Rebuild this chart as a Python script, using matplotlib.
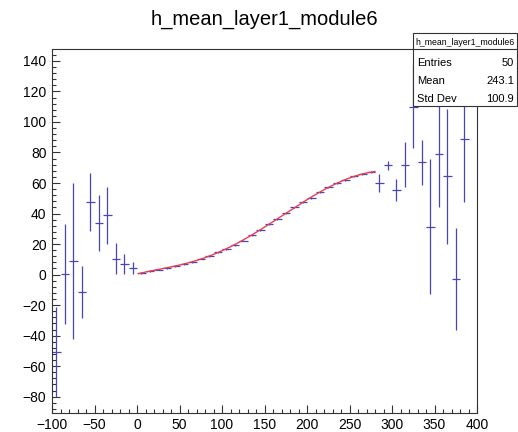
import numpy as np
import matplotlib
matplotlib.use("Agg")
import matplotlib.pyplot as plt
from matplotlib.patches import Rectangle
from matplotlib.ticker import MultipleLocator

plt.rcParams['font.family'] = ['Liberation Sans', 'DejaVu Sans']

# histogram: 50 bins from -100 to 400
bin_edges = np.linspace(-100, 400, 51)
centers = 0.5 * (bin_edges[:-1] + bin_edges[1:])

contents = [-51.0, 0.3, 9.0, -11.3, 47.3, 33.8, 38.8, 10.5, 6.8, 4.4,
            1.1, 2.2, 3.3, 4.4, 5.4, 6.9, 8.5, 10.5, 12.2, 14.5,
            16.6, 19.5, 22.3, 26.0, 29.4, 33.0, 36.6, 40.3, 44.0, 47.3,
            50.2, 54.0, 57.1, 60.0, 62.1, 64.3, 66.0, 67.0,
            60.0, 71.5, 55.5, 72.0, 110.0, 73.5, 31.5, 79.0, 64.3, -3.0,
            89.0, np.nan]
errors = [29.5, 33.0, 51.0, 17.0, 19.0, 18.5, 18.5, 10.0, 6.5, 4.0,
          0.6, 0.6, 0.6, 0.6, 0.6, 0.6, 0.6, 0.6, 0.6, 0.6,
          0.6, 0.6, 0.6, 0.6, 0.6, 0.6, 0.6, 0.6, 0.6, 0.6,
          0.6, 0.6, 0.6, 0.6, 0.6, 0.6, 0.6, 0.6,
          6.0, 3.0, 7.3, 14.7, 27.0, 14.5, 44.0, 34.5, 44.0, 33.5,
          41.6, np.nan]
contents = np.array(contents)
errors = np.array(errors)

fit_lo, fit_hi = 0, 280
title = "h_mean_layer1_module6"
stats = [("Entries", "50"), ("Mean", "243.1"), ("Std Dev", "100.9")]

blue = '#4646b9'
red = '#e8404f'

fig = plt.figure(figsize=(5.18, 4.32), dpi=100)
ax = fig.add_axes([52 / 518, 1 - 412.7 / 432, 425 / 518, (412.7 - 49) / 432])

ax.errorbar(centers, contents, yerr=errors, xerr=5, fmt='none',
            ecolor=blue, elinewidth=0.9, capsize=0, zorder=2)

# polynomial fit over the fit range
sel = (centers > fit_lo) & (centers < fit_hi)
p = np.polyfit(centers[sel], contents[sel], 5)
xf = np.linspace(fit_lo + 2, fit_hi, 200)
ax.plot(xf, np.polyval(p, xf), color=red, lw=1.0, zorder=3)

ax.set_xlim(-100, 400)
ax.set_ylim(-90.5, 147.8)
ax.xaxis.set_major_locator(MultipleLocator(50))
ax.xaxis.set_minor_locator(MultipleLocator(10))
ax.yaxis.set_major_locator(MultipleLocator(20))
ax.yaxis.set_minor_locator(MultipleLocator(4))
ax.tick_params(which='both', direction='in', top=False, right=False,
               labelsize=10, width=0.8, color='#333333')
ax.tick_params(which='major', length=5.8)
ax.tick_params(which='minor', length=2.9)
ax.tick_params(axis='x', pad=4)
ax.tick_params(axis='y', pad=4)
for s in ax.spines.values():
    s.set_linewidth(0.8)
    s.set_color('#333333')

fig.text(264.5 / 518, 1 - 25 / 432, title, ha='center', va='baseline', fontsize=14.5)

# stats box
x0, x1 = 413 / 518, 517 / 518
ytop, ybot, ydiv = 1 - 33 / 432, 1 - 106 / 432, 1 - 49 / 432
fig.add_artist(Rectangle((x0, ybot), x1 - x0, ytop - ybot, transform=fig.transFigure,
                         facecolor='white', edgecolor='#333333', lw=0.8, zorder=5))
fig.add_artist(plt.Line2D([x0, x1], [ydiv, ydiv], transform=fig.transFigure,
                          color='#333333', lw=0.8, zorder=6))
fig.text(465 / 518, 1 - 42.5 / 432, title, ha='center', va='center', fontsize=6.3, zorder=7)
for (lab, val), yp in zip(stats, [62.5, 80.5, 98.5]):
    fig.text(417 / 518, 1 - yp / 432, lab, ha='left', va='center', fontsize=8, zorder=7)
    fig.text(514 / 518, 1 - yp / 432, val, ha='right', va='center', fontsize=8, zorder=7)

fig.savefig('out.png', dpi=100)
